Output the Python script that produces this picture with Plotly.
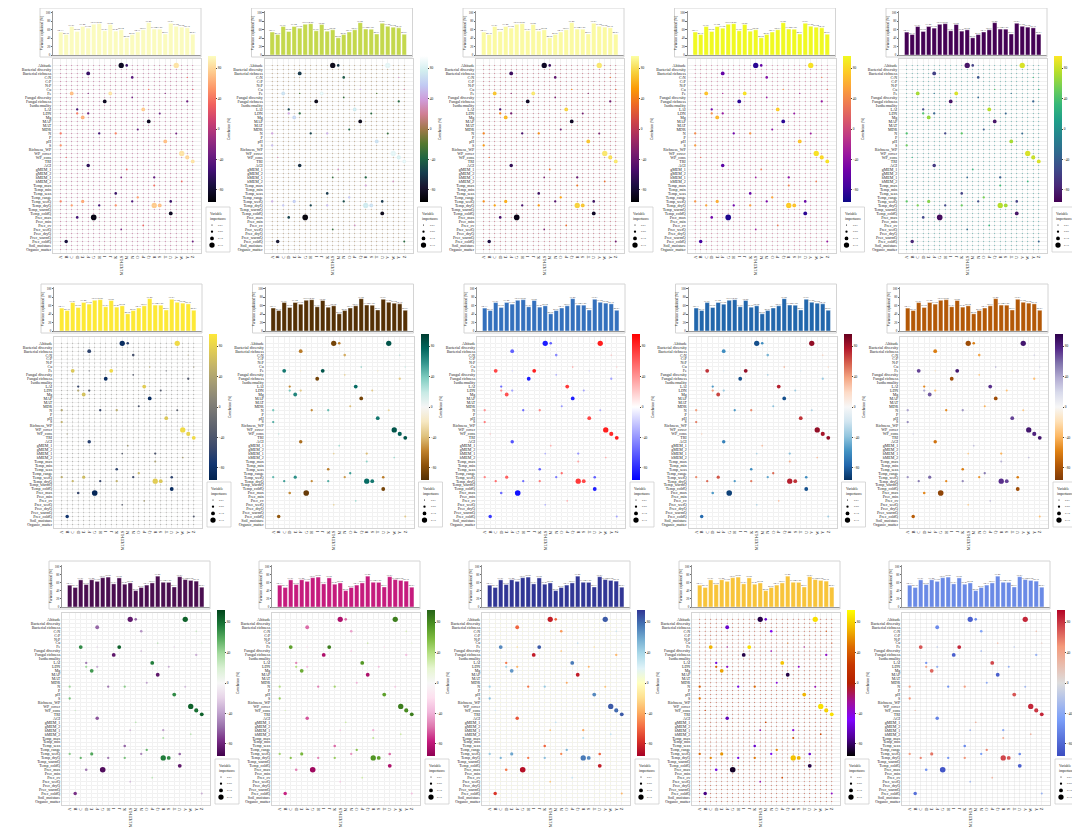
import plotly.graph_objects as go
import plotly.colors as pc

# the page body keeps a small default margin, so the figure is drawn slightly smaller
OFF = 8
W, H = 1080 - OFF, 839 - OFF
FONT = "Liberation Serif"

# ---- data (same data in all 15 panels) ----
predictors = ["Altitude", "Bacterial diversity", "Bacterial richness", "C:N", "C:P", "N:P",
              "Cu", "Fe", "Fungal diversity", "Fungal richness", "Isothermality", "LAI", "LDN",
              "Mg", "MAP", "MAT", "MDR", "N", "P", "pH", "S", "Richness_WP", "WP_cover",
              "WP_cons", "TRI", "AGI", "gMEM_1", "gMEM_2", "hMEM_1", "hMEM_2", "Temp_max",
              "Temp_min", "Temp_seas", "Temp_range", "Temp_wetQ", "Temp_dryQ", "Temp_warmQ",
              "Temp_coldQ", "Prec_max", "Prec_min", "Prec_cv", "Prec_wetQ", "Prec_dryQ",
              "Prec_warmQ", "Prec_coldQ", "Soil_moisture", "Organic_matter"]

responses = ["A", "B", "C", "D", "E", "F", "G", "H", "I", "J", "K", "MULTI-LS",
             "M", "N", "O", "P", "Q", "R", "S", "T", "U", "V", "W", "Y", "Z"]

var_explained = [54.13, 48.35, 67.21, 55.62, 67.44, 63.52, 72.61, 74.08, 57.23, 72.02,
                 56.41, 59.54, 40.62, 48.27, 54.31, 59.63, 76.42, 61.24, 61.05, 49.61,
                 75.03, 67.92, 65.84, 64.12, 49.03]

# notable bubbles: predictor index, response index, correlation (%), importance
bubble_rows = [0, 0, 0, 2, 3, 3, 6, 7, 7, 7, 7, 6, 8, 9, 9, 11, 11, 12, 12, 12,
               13, 14, 16, 17, 17, 17, 17, 20, 19, 22, 23, 24, 23, 25, 26, 28, 28, 30, 29, 32,
               33, 34, 34, 34, 34, 35, 35, 35, 35, 35, 37, 38, 38, 40, 41, 44, 44]
bubble_cols = [11, 12, 21, 5, 13, 23, 16, 2, 9, 5, 19, 24, 13, 8, 23, 3, 15, 3, 5, 18,
               4, 16, 14, 0, 7, 10, 21, 0, 19, 22, 23, 24, 1, 5, 12, 11, 17, 17, 22, 10,
               14, 13, 0, 4, 20, 17, 18, 2, 7, 10, 20, 3, 6, 15, 11, 1, 24]
bubble_corr = [-85, -60, 85, -60, -45, 30, 40, 70, 85, -20, -20, 20, -30, -85, -35, -55, 75, 40, -35, -35,
               65, -85, -40, 40, -55, 45, -30, 50, 70, 85, 80, 85, 25, -65, 30, -30, -40, 35, 30, -60,
               55, -50, 45, 60, -60, 75, 70, 55, -55, 50, -85, -55, -90, 30, -30, -75, -35]
bubble_imp = [0.15, 0.06, 0.15, 0.10, 0.06, 0.02, 0.02, 0.10, 0.10, 0.02, 0.02, 0.02, 0.03, 0.10, 0.05,
              0.05, 0.10, 0.05, 0.05, 0.04, 0.10, 0.10, 0.04, 0.05, 0.05, 0.05, 0.04, 0.05, 0.10, 0.15,
              0.11, 0.10, 0.02, 0.09, 0.03, 0.03, 0.05, 0.04, 0.03, 0.06, 0.05, 0.05, 0.05, 0.08, 0.06,
              0.15, 0.10, 0.05, 0.05, 0.05, 0.10, 0.06, 0.16, 0.03, 0.03, 0.09, 0.04]

base_corr = 0      # all other cells: near-zero correlation
base_imp = 0.005   # all other cells: very low importance

legend_imp = [0.01, 0.05, 0.10, 0.15]
legend_labels = ["0.01", "0.05", "0.10", "0.15"]
corr_ticks = [-80, -40, 0, 40, 80]
bar_ticks = [0, 20, 40, 60, 80, 100]

# ---- panel styling ----
cubehelix = ["#000000", "#1a1530", "#163d4e", "#1f6642", "#54792f", "#a07949",
             "#d07e93", "#cf9cda", "#c1caf3", "#d2eeef", "#ffffff"]
bwr = ["#0000ff", "#ffffff", "#ff0000"]
coolwarm = ["#3b4cc0", "#7b9ff9", "#dddddd", "#f49a7b", "#b40426"]
gnuplot = ["#000000", "#510096", "#8004ff", "#a11096", "#b42000", "#c63700",
           "#dd6c00", "#f2ba00", "#ffff00"]

panel_scales = [pc.sequential.Magma, cubehelix, pc.sequential.Inferno, pc.sequential.Plasma,
                pc.sequential.Viridis,
                pc.sequential.Cividis, pc.diverging.BrBG, bwr, list(reversed(pc.diverging.RdBu)),
                pc.diverging.PuOr,
                pc.diverging.PRGn, pc.diverging.PiYG, pc.diverging.RdYlBu, gnuplot, coolwarm]
panel_bars = ["#fbfbbe", "#c4d84c", "#fbfaa2", "#f0f921", "#440154",
              "#fde935", "#543005", "#3370bd", "#2166ac", "#b35806",
              "#4a0e50", "#c51b7d", "#313695", "#f8c43a", "#6a8ae6"]


def evenly(colors):
    n = len(colors) - 1
    return [[i / n, col] for i, col in enumerate(colors)]


def msize(v):
    return 0.8 + 30 * v


# build the full grid
corr_grid = [[base_corr] * len(responses) for _ in predictors]
imp_grid = [[base_imp] * len(responses) for _ in predictors]
for r, c, v, s in zip(bubble_rows, bubble_cols, bubble_corr, bubble_imp):
    corr_grid[r][c] = v
    imp_grid[r][c] = s

cells = []
for r, name in enumerate(predictors):
    for c, resp in enumerate(responses):
        cells.append((imp_grid[r][c], corr_grid[r][c], resp, name))
cells.sort(key=lambda t: t[0])
cx = [t[2] for t in cells]
cy = [t[3] for t in cells]
cc = [t[1] for t in cells]
cs = [msize(t[0]) for t in cells]

# ---- layout geometry (screen pixels) ----
row_right0 = [201, 202, 210]
row_pitch = [211.5, 211.5, 210]
row_barframe = [(8, 57), (284, 333), (561, 609)]
row_bararea = [(11, 55), (287, 331), (565, 607)]
row_heat = [(59, 253), (337, 528), (613, 805)]
HEAT_W = 148

fig = go.Figure()
layout = dict(width=W, height=H, margin=dict(l=0, r=0, t=0, b=0), template="none",
              paper_bgcolor="white", plot_bgcolor="white", showlegend=False,
              font=dict(family=FONT, size=4, color="#222"))
shapes = []
annotations = []

px = lambda x: (x - OFF) / W
py = lambda y: 1 - (y - OFF) / H
xrange = [-1.4, len(responses) + 0.5]

for k in range(15):
    r, c = divmod(k, 5)
    R = row_right0[r] + c * row_pitch[r]
    L = R - HEAT_W
    bt, bb = row_bararea[r]
    ht, hb = row_heat[r]
    nb, nh = 2 * k + 1, 2 * k + 2
    ax = lambda n, a: a if n == 1 else f"{a}{n}"
    cax = "coloraxis" if k == 0 else f"coloraxis{k + 1}"

    # bar chart
    fig.add_trace(go.Bar(
        x=responses, y=var_explained, xaxis=ax(nb, "x"), yaxis=ax(nb, "y"),
        marker=dict(color=panel_bars[k], line=dict(color="white", width=0.4)),
        text=[f"{v:.2f}" for v in var_explained], textposition="outside",
        textfont=dict(size=2.6, color="#555", family=FONT), constraintext="none",
        cliponaxis=False, hoverinfo="x+y"))
    layout[ax(nb, "xaxis")] = dict(domain=[px(L), px(R)], anchor=ax(nb, "y"), type="category",
                                   categoryorder="array", categoryarray=responses,
                                   range=xrange, showticklabels=False, showgrid=False,
                                   showline=True, linecolor="#999", linewidth=0.5,
                                   zeroline=False, automargin=False, ticks="")
    layout[ax(nb, "yaxis")] = dict(domain=[py(bb), py(bt)], anchor=ax(nb, "x"), range=[0, 104],
                                   tickvals=bar_ticks, tickfont=dict(size=3),
                                   ticks="outside", ticklen=1.5, tickwidth=0.4, tickcolor="#666",
                                   showline=True, linecolor="#999", linewidth=0.5,
                                   showgrid=False, zeroline=False, automargin=False,
                                   title=dict(text="Variation explained (%)",
                                              font=dict(size=3.6), standoff=2))
    fb_t, fb_b = row_barframe[r]
    shapes.append(dict(type="rect", xref="paper", yref="paper", x0=px(R - 161), x1=px(R),
                       y0=py(fb_b), y1=py(fb_t), line=dict(color="#d4d4d4", width=1)))

    # bubble grid
    fig.add_trace(go.Scatter(
        x=cx, y=cy, mode="markers", xaxis=ax(nh, "x"), yaxis=ax(nh, "y"),
        marker=dict(size=cs, color=cc, coloraxis=cax, line=dict(width=0), opacity=1),
        cliponaxis=False, hoverinfo="x+y"))
    layout[ax(nh, "xaxis")] = dict(domain=[px(L), px(R)], anchor=ax(nh, "y"), type="category",
                                   categoryorder="array", categoryarray=responses,
                                   tickmode="array", tickvals=responses,
                                   range=xrange, tickangle=-90, tickfont=dict(size=4.3),
                                   showgrid=True, gridcolor="#f1f1f1", gridwidth=0.5,
                                   showline=True, mirror=True, linecolor="#d4d4d4", linewidth=1,
                                   zeroline=False, automargin=False, ticks="")
    layout[ax(nh, "yaxis")] = dict(domain=[py(hb), py(ht)], anchor=ax(nh, "x"), type="category",
                                   categoryorder="array", categoryarray=predictors,
                                   tickmode="array", tickvals=predictors,
                                   range=[len(predictors) - 0.1, -1.6], tickfont=dict(size=4),
                                   showgrid=True, gridcolor="#f1f1f1", gridwidth=0.5,
                                   showline=True, mirror=True, linecolor="#d4d4d4", linewidth=1,
                                   zeroline=False, automargin=False, ticks="")

    layout[cax] = dict(
        colorscale=evenly(panel_scales[k]), cmin=-96, cmax=96,
        colorbar=dict(x=px(R + 7), xanchor="left", xpad=0, y=py(ht - 3), yanchor="top",
                      ypad=0, len=146, lenmode="pixels", thickness=8, outlinewidth=0,
                      tickvals=corr_ticks, tickfont=dict(size=3.5, family=FONT),
                      ticks="outside", ticklen=1.5, tickwidth=0.4,
                      title=dict(text="Correlation (%)", side="right",
                                 font=dict(size=3.6, family=FONT))))

    # size legend
    shapes.append(dict(type="rect", xref="paper", yref="paper", x0=px(R + 5), x1=px(R + 29),
                       y0=py(hb - 1), y1=py(hb - 46), line=dict(color="#cfcfcf", width=0.8)))
    annotations.append(dict(x=px(R + 7), y=py(hb - 43), xref="paper", yref="paper",
                            xanchor="left", yanchor="top", align="left", showarrow=False,
                            text="Variable<br>importance", font=dict(size=3.6, family=FONT)))
    for i, (v, lab) in enumerate(zip(legend_imp, legend_labels)):
        rad = msize(v) / 2
        cxp, cyp = R + 11, hb - 28 + i * 6.7
        shapes.append(dict(type="circle", xref="paper", yref="paper",
                           x0=px(cxp - rad), x1=px(cxp + rad), y0=py(cyp + rad), y1=py(cyp - rad),
                           fillcolor="black", line=dict(width=0)))
        annotations.append(dict(x=px(R + 15), y=py(cyp), xref="paper", yref="paper",
                                xanchor="left", yanchor="middle", showarrow=False,
                                text=lab, font=dict(size=2.8, family=FONT, color="#444")))

layout["shapes"] = shapes
layout["annotations"] = annotations
fig.update_layout(**layout)
fig.write_html("out.html")
